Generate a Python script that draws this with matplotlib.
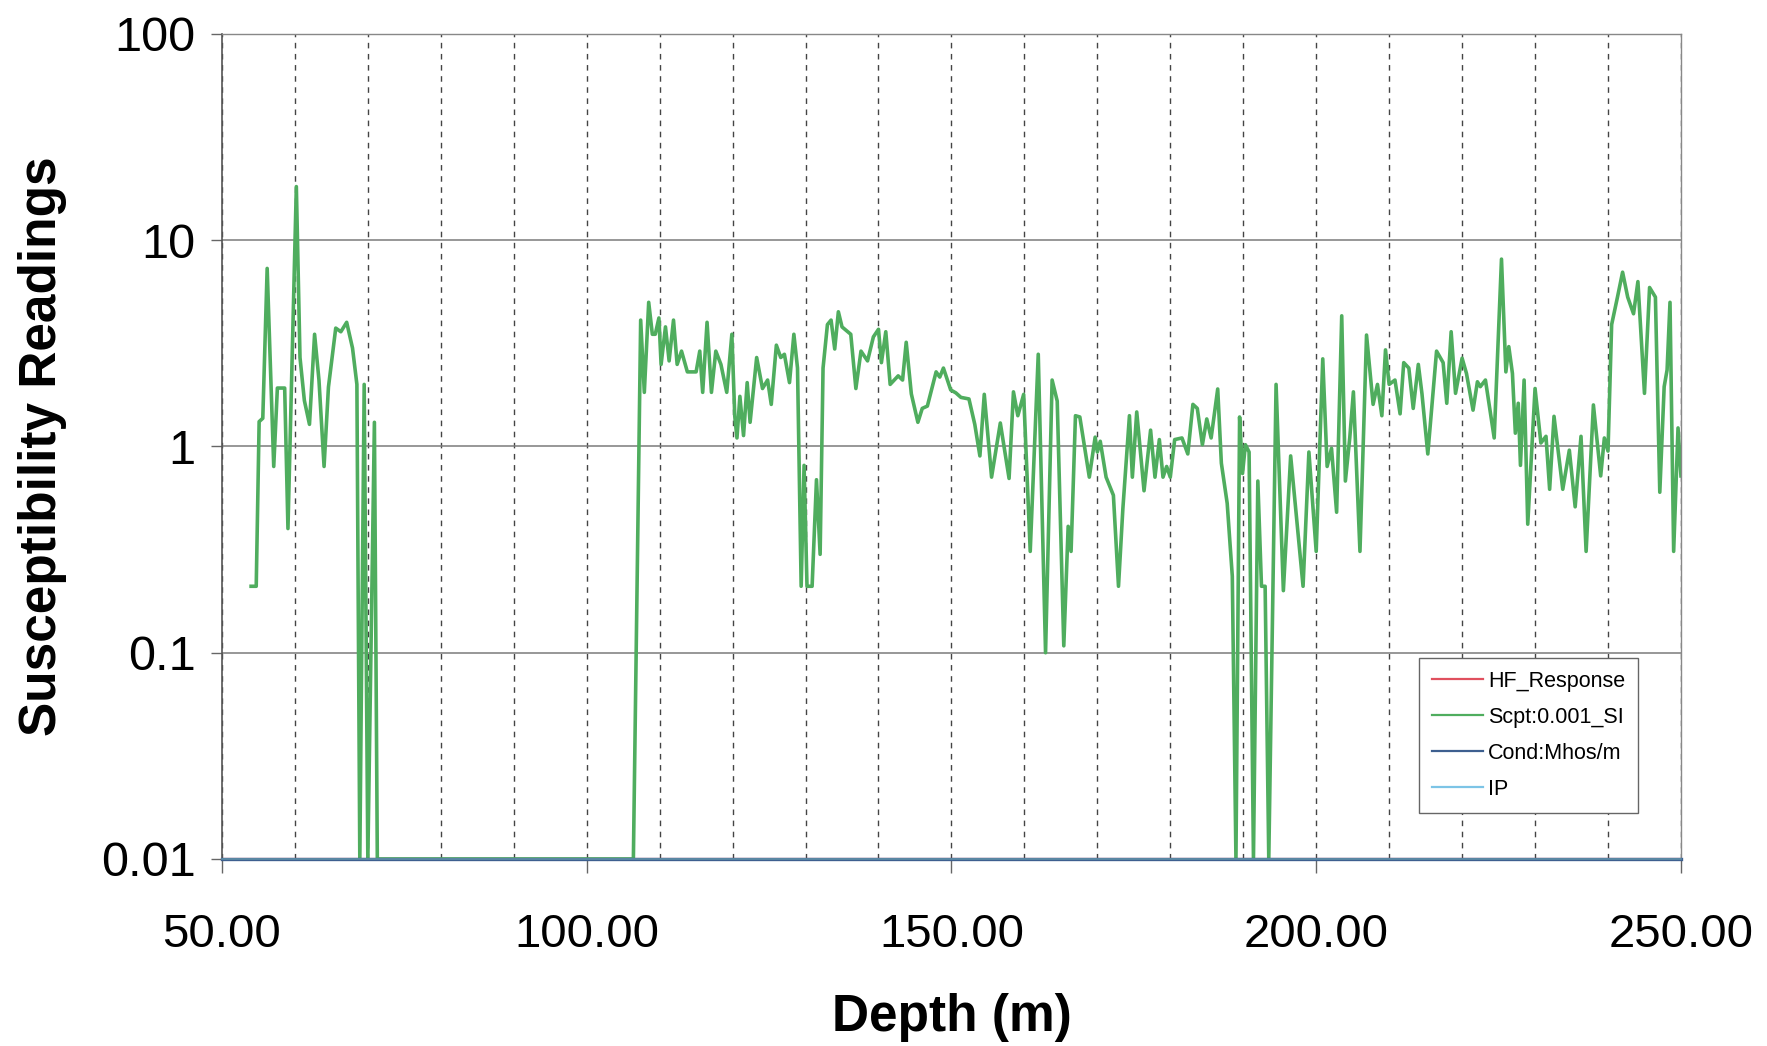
import numpy as np
import matplotlib
matplotlib.use("Agg")
from matplotlib import pyplot as plt
from matplotlib.ticker import FixedLocator, FormatStrFormatter, NullFormatter

plt.rcParams['font.family'] = ['Liberation Sans', 'DejaVu Sans']

# Scpt:0.001_SI readings (depth in m)
depth = [
    54.0, 54.7, 55.1, 55.6, 56.2, 57.1, 57.6, 58.6, 59.05, 60.2,
    60.7, 61.3, 62.0, 62.7, 63.3, 64.0, 64.6, 65.6, 66.3, 67.1,
    67.9, 68.5, 68.9, 69.5, 70.0, 70.9, 71.3,
    106.4,
    107.4, 107.9, 108.5, 109.0, 109.4, 109.9, 110.2, 110.8, 111.3, 111.9,
    112.4, 113.0, 113.8, 115.0, 115.5, 115.9, 116.5, 117.1, 117.7, 118.4,
    119.2, 119.9, 120.3, 120.6, 121.0, 121.5, 122.0, 122.4, 123.3, 124.1,
    124.8, 125.3, 126.0, 126.6, 127.1, 127.8, 128.4, 128.9, 129.4, 129.8,
    130.2, 130.9, 131.5, 132.0, 132.4, 133.0, 133.5, 134.0, 134.5, 135.0,
    135.8, 136.2, 136.9, 137.6, 138.5, 139.3, 140.0, 140.4, 141.0, 141.6,
    142.7, 143.3, 143.8, 144.5, 145.4, 146.0, 146.7, 147.9, 148.4, 148.9,
    149.9, 150.6, 151.3, 152.4, 153.2, 153.9, 154.5, 155.5, 156.7, 157.9,
    158.5, 159.1, 159.9, 160.8, 161.9, 162.9, 163.8, 164.5, 165.4, 166.0,
    166.4, 167.0, 167.6, 168.9, 169.7, 170.0, 170.4, 171.2, 172.2, 172.9,
    173.5, 174.4, 174.8, 175.4, 176.4, 177.3, 177.9, 178.5, 179.0, 179.5,
    180.0, 180.6, 181.6, 182.4, 183.1, 183.7, 184.4, 185.0, 185.6, 186.5,
    187.0, 187.8, 188.5, 189.0, 189.5, 189.9, 190.3, 190.8, 191.4, 192.0,
    192.5, 193.0, 193.5, 194.5, 195.5, 196.5, 198.2, 199.0, 200.0, 200.9,
    201.5, 202.1, 202.8, 203.5, 204.0, 204.6, 205.1, 206.0, 206.9, 207.8,
    208.4, 209.0, 209.5, 210.0, 210.8, 211.5, 212.0, 212.7, 213.3, 214.0,
    214.5, 215.3, 216.5, 217.4, 217.9, 218.5, 219.1, 220.0, 220.6, 221.5,
    222.1, 222.5, 223.2, 224.4, 225.4, 226.0, 226.4, 226.9, 227.3, 227.7,
    228.0, 228.5, 229.0, 230.0, 230.8, 231.5, 232.0, 232.6, 233.8, 234.7,
    235.5, 236.3, 237.0, 238.0, 239.0, 239.5, 240.0, 240.5, 241.3, 242.0,
    242.7, 243.5, 244.1, 245.0, 245.7, 246.5, 247.1, 247.7, 248.1, 248.5,
    249.0, 249.6, 250.0,
]
scpt = [
    0.21, 0.21, 1.32, 1.37, 7.3, 0.80, 1.92, 1.92, 0.40, 18.2,
    2.7, 1.67, 1.28, 3.5, 2.1, 0.80, 1.94, 3.75, 3.6, 4.0,
    3.0, 2.0, 0.01, 2.0, 0.01, 1.31, 0.01,
    0.01,
    4.1, 1.83, 5.0, 3.5, 3.5, 4.2, 2.5, 3.8, 2.6, 4.1,
    2.5, 2.9, 2.3, 2.3, 2.9, 1.83, 4.0, 1.83, 2.9, 2.5,
    1.83, 3.5, 1.40, 1.10, 1.75, 1.13, 2.04, 1.31, 2.7, 1.91,
    2.1, 1.6, 3.1, 2.7, 2.8, 2.04, 3.5, 2.4, 0.21, 0.81,
    0.21, 0.21, 0.69, 0.30, 2.4, 3.9, 4.1, 2.97, 4.5, 3.8,
    3.6, 3.5, 1.91, 2.9, 2.6, 3.4, 3.7, 2.55, 3.6, 2.0,
    2.2, 2.1, 3.2, 1.8, 1.31, 1.53, 1.57, 2.3, 2.17, 2.4,
    1.88, 1.82, 1.73, 1.70, 1.28, 0.90, 1.79, 0.71, 1.30, 0.70,
    1.84, 1.41, 1.79, 0.31, 2.8, 0.10, 2.1, 1.66, 0.108, 0.41,
    0.31, 1.41, 1.39, 0.71, 1.11, 0.94, 1.06, 0.71, 0.58, 0.21,
    0.50, 1.41, 0.71, 1.47, 0.61, 1.2, 0.71, 1.08, 0.71, 0.80,
    0.71, 1.08, 1.1, 0.92, 1.6, 1.53, 1.02, 1.36, 1.1, 1.9,
    0.83, 0.53, 0.235, 0.01, 1.39, 0.74, 1.02, 0.94, 0.01, 0.68,
    0.21, 0.21, 0.01, 2.0, 0.20, 0.90, 0.21, 0.94, 0.31, 2.66,
    0.80, 0.98, 0.48, 4.3, 0.68, 1.1, 1.84, 0.31, 3.47, 1.6,
    2.0, 1.41, 2.94, 2.0, 2.1, 1.44, 2.55, 2.4, 1.53, 2.5,
    1.8, 0.92, 2.9, 2.55, 1.62, 3.6, 1.81, 2.68, 2.26, 1.5,
    2.06, 1.95, 2.1, 1.1, 8.1, 2.3, 3.05, 2.26, 1.16, 1.62,
    0.81, 2.1, 0.42, 1.91, 1.04, 1.12, 0.62, 1.4, 0.62, 0.96,
    0.51, 1.12, 0.31, 1.59, 0.72, 1.1, 0.95, 3.9, 5.3, 7.0,
    5.3, 4.4, 6.3, 1.81, 5.9, 5.3, 0.6, 1.95, 2.35, 5.0,
    0.31, 1.23, 0.72,
]

# the other three logs sit on the bottom of the scale
flat_depth = [50.0, 250.0]
hf_response = [0.01, 0.01]
cond = [0.01, 0.01]
ip = [0.01, 0.01]

x_ticks = [50, 100, 150, 200, 250]
y_ticks = [0.01, 0.1, 1, 10, 100]
y_labels = ['0.01', '0.1', '1', '10', '100']

fig = plt.figure(figsize=(17.67, 10.46), dpi=100)
ax = fig.add_axes([0.1256, 0.1788, 0.8257, 0.7887])

ax.plot(flat_depth, hf_response, color='#e0505e', lw=1.6, label='HF_Response', zorder=2)
ax.plot(depth, scpt, color='#4fad5e', lw=2.6, label='Scpt:0.001_SI', zorder=2)
ax.plot(flat_depth, cond, color='#3d5f8f', lw=2.4, label='Cond:Mhos/m', zorder=3, clip_on=False)
ax.plot(flat_depth, ip, color='#5f8fa8', lw=1.2, label='IP', zorder=3, clip_on=False)

ax.set_yscale('log')
ax.set_ylim(0.01, 100)
ax.set_xlim(50, 250)

ax.xaxis.set_major_locator(FixedLocator(x_ticks))
ax.xaxis.set_major_formatter(FormatStrFormatter('%.2f'))
ax.xaxis.set_minor_locator(FixedLocator(np.arange(60, 250, 10)))
ax.xaxis.set_minor_formatter(NullFormatter())
ax.yaxis.set_major_locator(FixedLocator(y_ticks))
ax.set_yticklabels(y_labels)
ax.yaxis.set_minor_locator(FixedLocator([]))

# horizontal decade lines solid, depth lines dashed
ax.grid(True, which='major', axis='y', color='#7a7a7a', lw=1.1, ls='-')
ax.grid(True, which='minor', axis='x', color='#444444', lw=1.0, ls=(0, (4, 4)))
ax.grid(True, which='major', axis='x', color='#444444', lw=1.0, ls=(0, (4, 4)))
ax.set_axisbelow(True)

for s in ['left', 'bottom']:
    ax.spines[s].set_color('#555555')
    ax.spines[s].set_linewidth(1.2)
for s in ['top', 'right']:
    ax.spines[s].set_color('#888888')
    ax.spines[s].set_linewidth(1.0)

ax.tick_params(axis='y', which='major', length=8, width=1, color='#666666',
               pad=11, labelsize=35)
ax.tick_params(axis='x', which='major', length=10, width=1, color='#666666',
               pad=29, labelsize=34)
ax.tick_params(axis='x', which='minor', length=0)

ax.set_ylabel('Susceptibility Readings', fontsize=37, fontweight='bold')
ax.yaxis.set_label_coords(-0.106, 0.5)
ax.set_xlabel('Depth (m)', fontsize=37, fontweight='bold')
ax.xaxis.set_label_coords(0.5, -0.163)

leg = ax.legend(loc='lower left', bbox_to_anchor=(0.813, 0.043), fontsize=15.5,
                handlelength=2.4, labelspacing=0.7, borderpad=0.6,
                handletextpad=0.2, fancybox=False, framealpha=1)
leg.get_frame().set_edgecolor('#666666')
leg.get_frame().set_linewidth(1.0)
for ln, c in zip(leg.get_lines(), ['#e0505e', '#4fad5e', '#3d5f8f', '#7cc4e6']):
    ln.set_linewidth(1.6)
    ln.set_color(c)

fig.savefig('out.png', dpi=100)
